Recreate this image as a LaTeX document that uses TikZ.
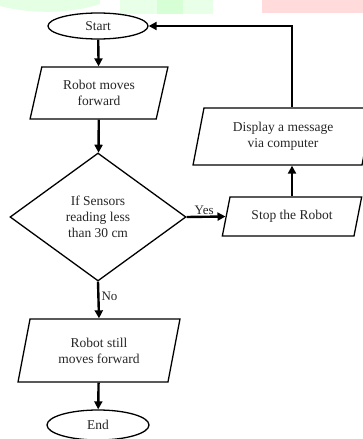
\documentclass[tikz,border=0pt]{standalone}
\usepackage{fontspec}
\setmainfont{Liberation Serif}
\usetikzlibrary{shapes.geometric,arrows.meta,calc}
\tikzset{
  txt/.style={font=\fontsize{13.5}{16}\selectfont, align=center, text=black!85},
  term/.style={txt, draw, ellipse, line width=1.3pt},
  io/.style={txt, draw, trapezium, trapezium stretches=true, line width=1.3pt},
  dec/.style={txt, draw, diamond, line width=1.3pt, inner sep=0pt},
  flow/.style={line width=2.4pt, -{Triangle[length=8pt,width=8pt]}},
  lbl/.style={font=\fontsize{13}{15}\selectfont, text=black!85},
}
\begin{document}
\begin{tikzpicture}[x=1pt,y=-1pt]
\useasboundingbox (0,0) rectangle (363,439);
\clip (0,0) rectangle (363,439);
% faint watermark band at top
\fill[green!10!white] (0,0) -- (100,0) -- (100,4) .. controls (70,14) and (30,14) .. (0,6) -- cycle;
\fill[green!9!white] (120,0) rectangle (213,14);
\fill[green!16!white] (157,0) rectangle (183,14);
\fill[red!14!white] (262,0) rectangle (363,13);
% nodes
\node[term, minimum width=100pt, minimum height=26pt] (start) at (98,26) {Start};
\node[io, trapezium left angle=76, trapezium right angle=104, minimum width=138pt, minimum height=52pt] (b1) at (99,93) {Robot moves\\forward};
\node[dec, minimum width=176pt, minimum height=128pt] (dia) at (98,217) {If Sensors\\reading less\\than 30 cm};
\node[io, trapezium left angle=74, trapezium right angle=106, minimum width=140pt, minimum height=39pt] (stop) at (292,216.5) {Stop the Robot};
\node[io, trapezium left angle=78, trapezium right angle=102, minimum width=180pt, minimum height=57pt] (disp) at (283,136.5) {Display a message\\via computer};
\node[io, trapezium left angle=76.6, trapezium right angle=103.4, minimum width=162pt, minimum height=63pt] (b3) at (99,350.5) {Robot still\\moves forward};
\node[term, minimum width=102pt, minimum height=30pt] (end) at (98,425) {End};
% connectors
\draw[flow] (start) -- (b1);
\draw[flow] (b1) -- (dia);
\draw[flow] (dia.east) -- node[lbl, above, pos=0.45, inner sep=1pt] (yes) {Yes} (stop.west);
\draw[flow] (stop.north) -- (stop.north |- disp.south);
\coordinate (corner) at (stop.north |- start.east);
\draw[flow] (stop.north |- disp.north) -- (corner) -- (start.east);
\draw[flow] (dia.south) -- node[lbl, right, pos=0.4, inner sep=2pt] (no) {No} (b3.north);
\draw[flow] (b3) -- (end);
\end{tikzpicture}
\end{document}
